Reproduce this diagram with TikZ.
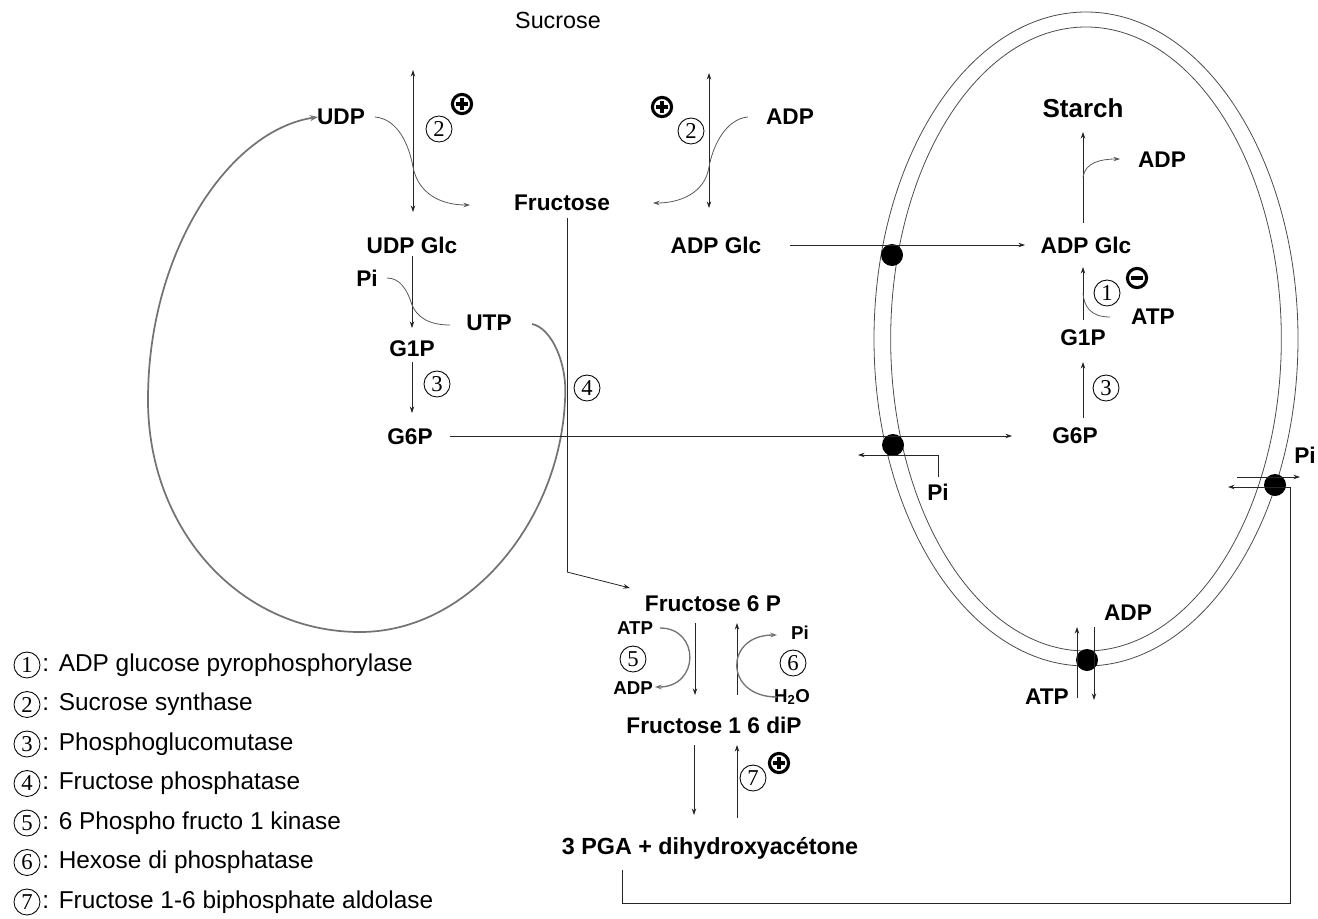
\documentclass[tikz,border=0pt]{standalone}
\usepackage{fontspec}
\setmainfont{Liberation Sans}
\newfontfamily\serifnum{Liberation Serif}
\usetikzlibrary{arrows.meta}
\tikzset{
  lbl/.style={font=\fontsize{17}{19}\selectfont\bfseries, inner sep=1pt},
  big/.style={font=\fontsize{19.5}{22}\selectfont\bfseries, inner sep=1pt},
  sml/.style={font=\fontsize{14}{15}\selectfont\bfseries, inner sep=1pt},
  plain/.style={font=\fontsize{17.5}{20}\selectfont, inner sep=1pt},
  legtxt/.style={font=\fontsize{18.3}{21}\selectfont, inner sep=0pt, anchor=west},
  enz/.style={circle, draw, line width=0.65pt, inner sep=0pt, minimum size=19.5pt, font=\serifnum\fontsize{17}{17}\selectfont},
  tip/.style={-{Stealth[length=5pt,width=3.4pt]}},
  ln/.style={line width=0.6pt, draw=black!85},
  arr/.style={ln, tip},
  dbl/.style={ln, {Stealth[length=5pt,width=3.4pt]}-{Stealth[length=5pt,width=3.4pt]}},
  crv/.style={line width=0.6pt, draw=black!65, tip},
  gcrv/.style={line width=1.3pt, draw=black!55, -{Stealth[length=6pt,width=4.5pt]}},
  memb/.style={line width=0.6pt, draw=black!70},
  dot/.style={circle, fill=black, inner sep=0pt, minimum size=16.5pt},
  pplus/.pic={\draw[line width=2.3pt] (0,0) circle (7.2pt);
              \draw[line width=2.9pt] (-4.8pt,0)--(4.8pt,0) (0,-4.8pt)--(0,4.8pt);},
  pminus/.pic={\draw[line width=2.3pt] (0,0) circle (7.2pt);
              \fill (-4.2pt,-1.8pt) rectangle (4.2pt,1.8pt);},
}
\begin{document}
\begin{tikzpicture}[x=0.75pt, y=-0.75pt]
\useasboundingbox (0,0) rectangle (1318,918);

% ---------- plastid membranes ----------
\draw[memb] (1086,339) ellipse [x radius=159pt, y radius=245.25pt];
\draw[memb] (1086,339) ellipse [x radius=146.5pt, y radius=234pt];

% ---------- cytosol nodes ----------
\node[plain] (sucrose) at (558,20) {Sucrose};
\node[lbl] (udp) at (341,117) {UDP};
\node[lbl] (fru) at (562,203) {Fructose};
\node[lbl] (adp1) at (790,117) {ADP};
\node[lbl] (udpglc) at (412,245) {UDP Glc};
\node[lbl] (adpglc) at (716,245) {ADP Glc};
\node[lbl] (pi1) at (367,278) {Pi};
\node[lbl] (utp) at (489,323) {UTP};
\node[lbl] (g1p) at (412,349) {G1P};
\node[lbl] (g6p) at (410,437) {G6P};
\node[enz] (e2a) at (439,129) {2};
\pic (pl1) at (462,104) {pplus};
\pic (pl2) at (662,107) {pplus};
\node[enz] (e2b) at (691,131) {2};
\node[enz] (e3a) at (437,384) {3};
\node[enz] (e4) at (587,388) {4};

% ---------- plastid nodes ----------
\node[big] (starch) at (1083,108) {Starch};
\node[lbl] (adp2) at (1162,160) {ADP};
\node[lbl] (adpglc2) at (1086,245) {ADP Glc};
\node[enz] (e1) at (1107,293) {1};
\pic (mi1) at (1137,278) {pminus};
\node[lbl] (atp1) at (1153,317) {ATP};
\node[lbl] (g1p2) at (1083,338) {G1P};
\node[enz] (e3b) at (1106,388) {3};
\node[lbl] (g6p2) at (1075,436) {G6P};
\node[lbl] (pi2) at (938,492) {Pi};
\node[lbl] (pi3) at (1305,455) {Pi};
\node[lbl] (adp3) at (1128,613) {ADP};
\node[lbl] (atp2) at (1047,697) {ATP};

% ---------- transporters ----------
\node[dot] (t1) at (892,255) {};
\node[dot] (t2) at (893,445) {};
\node[dot] (t3) at (1275,485) {};
\node[dot] (t4) at (1087,660) {};

% ---------- fructose phosphate cycle ----------
\node[lbl] (f6p) at (713,604) {Fructose 6 P};
\node[sml] (atp3) at (635,628) {ATP};
\node[sml] (adp4) at (633,688) {ADP};
\node[enz] (e5) at (633,659) {5};
\node[sml] (pi4) at (800,633) {Pi};
\node[sml] (h2o) at (792,697) {H\textsubscript{2}O};
\node[enz] (e6) at (793,663) {6};
\node[lbl] (f16) at (714,725) {Fructose 1 6 diP};
\node[enz] (e7) at (753,778) {7};
\pic (pl3) at (779,763) {pplus};
\node[lbl, font=\fontsize{17.5}{19}\selectfont\bfseries] (pga) at (710,848) {3 PGA + dihydroxyacétone};

% ---------- coordinates ----------
\coordinate (va1) at (413,70);  \coordinate (vb1) at (413,212);
\coordinate (va2) at (709,73);  \coordinate (vb2) at (709,208);
\coordinate (udpr) at (375,117); \coordinate (x1) at (413,167); \coordinate (fruin) at (470,205);
\coordinate (adpl) at (748,117); \coordinate (x2) at (709,167); \coordinate (fruin2) at (653,203);
\coordinate (pir) at (387,278); \coordinate (x3) at (411,302); \coordinate (utpl) at (450,325);
\coordinate (utpr) at (532,324); \coordinate (udpin) at (318,117);
\coordinate (fa) at (567,218); \coordinate (fb) at (567,572); \coordinate (f6pin) at (630,588);
\coordinate (piv) at (938,477); \coordinate (pic) at (938,455); \coordinate (piout) at (858,455);
\coordinate (pr) at (1290,487); \coordinate (pbr) at (1290,903); \coordinate (pbl) at (622,903); \coordinate (pgab) at (622,870);

% ---------- cytosol connectors ----------
\draw[dbl] (va1) -- (vb1);
\draw[dbl] (va2) -- (vb2);
\draw[crv] (udpr) .. controls (398,119) and (409,145) .. (x1) .. controls (418,193) and (440,205) .. (fruin);
\draw[crv] (adpl) .. controls (726,119) and (713,145) .. (x2) .. controls (705,193) and (680,203) .. (fruin2);
\draw[arr] (412,256) -- (412,328);
\draw[crv, -] (pir) .. controls (400,278) and (407,290) .. (x3) .. controls (416,318) and (430,325) .. (utpl);
\draw[arr] (412,362) -- (412,413);
\draw[gcrv] (utpr) .. controls (552,328) and (568,365) .. (565,400)
   .. controls (560,520) and (470,632) .. (360,632)
   .. controls (240,632) and (148,530) .. (148,400)
   .. controls (148,250) and (230,130) .. (udpin);
\draw[ln] (fa) -- (fb);
\draw[arr] (fb) -- (f6pin);
\draw[arr] (450,436) -- (1012,436);
\draw[arr] (790,245) -- (1025,245);
\draw[ln] (piv) -- (pic);
\draw[arr] (pic) -- (piout);

% ---------- plastid connectors ----------
\draw[arr] (1083,223) -- (1083,132);
\draw[crv] (1083,177) .. controls (1085,163) and (1100,159) .. (1120,159);
\draw[arr] (1083,320) -- (1083,267);
\draw[crv, -] (1110,317) .. controls (1090,317) and (1084,306) .. (1083,293);
\draw[arr] (1083,418) -- (1083,362);
\draw[arr] (1237,477) -- (1300,477);
\draw[arr] (pr) -- (1228,487);
\draw[ln] (pr) -- (pbr) -- (pbl) -- (pgab);
\draw[arr] (1077,698) -- (1077,627);
\draw[arr] (1094,627) -- (1094,700);

% ---------- F6P cycle connectors ----------
\draw[arr] (695,623) -- (695,695);
\draw[arr] (737,695) -- (737,623);
\draw[gcrv, line width=1pt, -{Stealth[length=5pt,width=3.6pt]}] (660,628) .. controls (700,628) and (700,687) .. (655,687);
\draw[gcrv, line width=1pt, -{Stealth[length=5pt,width=3.6pt]}] (777,697) .. controls (724,697) and (724,635) .. (777,635);
\draw[arr] (694,745) -- (694,815);
\draw[arr] (737,818) -- (737,745);

% ---------- legend ----------
\foreach \n/\t [count=\i from 0] in {1/ADP glucose pyrophosphorylase, 2/Sucrose synthase, 3/Phosphoglucomutase, 4/Fructose phosphatase, 5/6 Phospho fructo 1 kinase, 6/Hexose di phosphatase, 7/Fructose 1-6 biphosphate aldolase}{
  \node[enz] (leg\n) at (27,{665+39.5*\i}) {\n};
  \node[legtxt] (legt\n) at (42,{665+39.5*\i}) {:\hspace{0.4em}\t};
}
\end{tikzpicture}
\end{document}
